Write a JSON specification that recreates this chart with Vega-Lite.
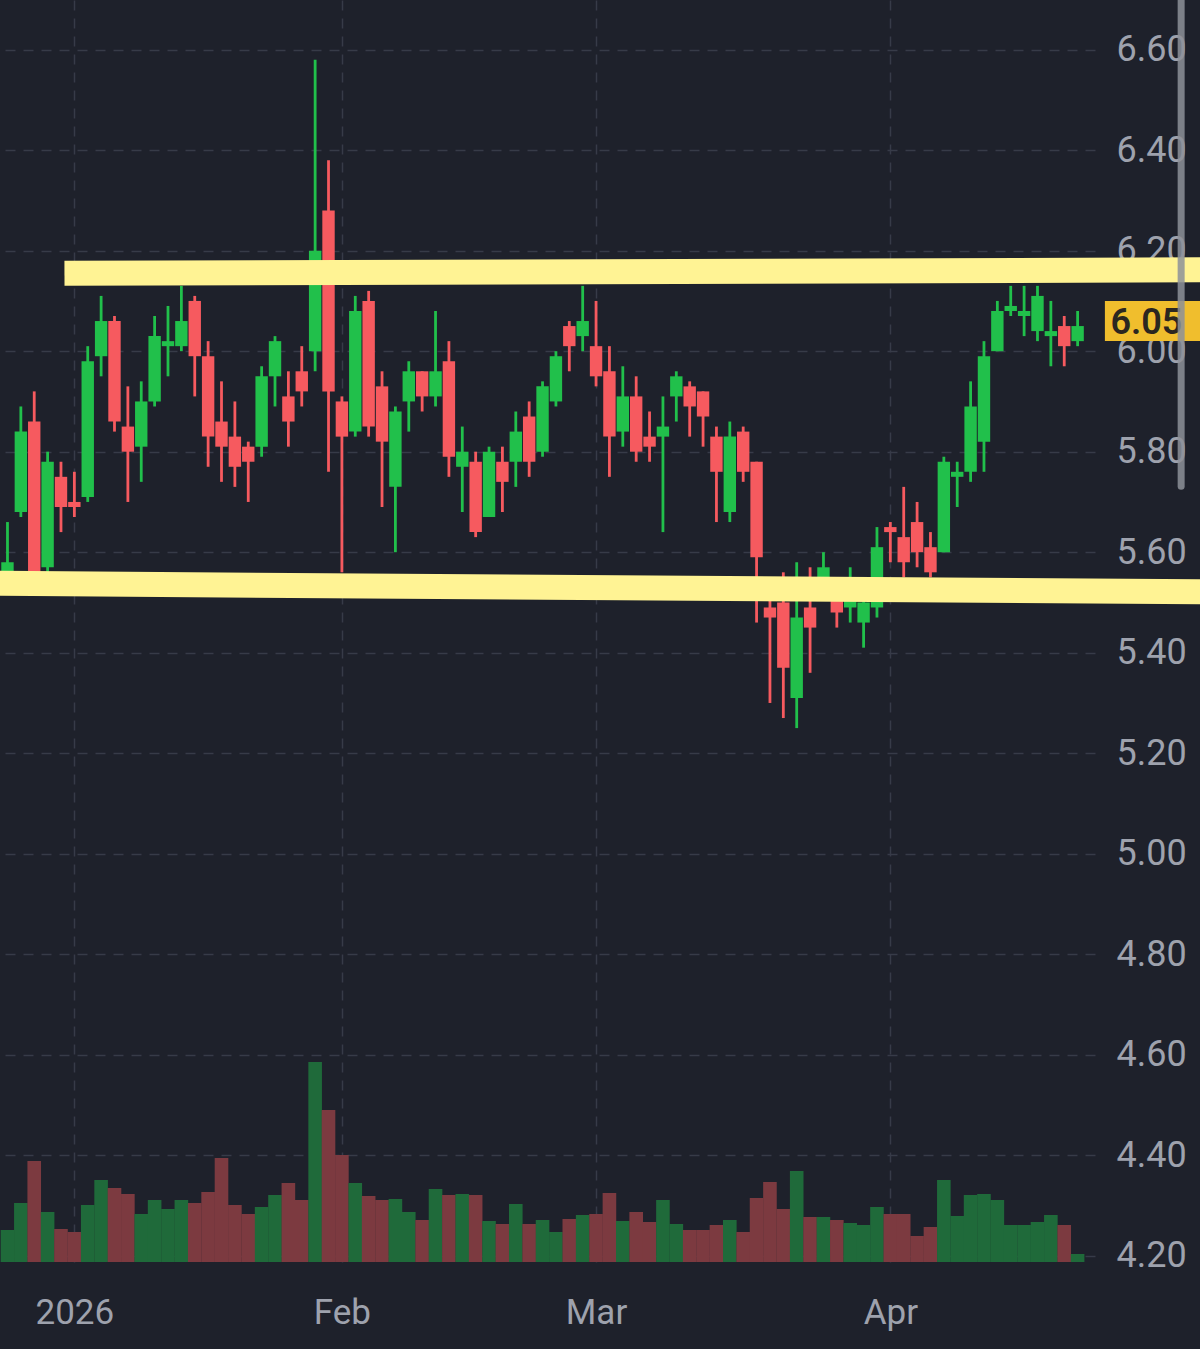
{
  "$schema": "https://vega.github.io/schema/vega-lite/v6.json",
  "width": 1095,
  "height": 1262,
  "autosize": {"type": "none"},
  "padding": {"left": 0, "top": 0, "right": 105, "bottom": 87},
  "background": "#1e212b",
  "config": {"view": {"stroke": null}, "font": "Roboto"},
  "datasets": {
    "ohlc": [
      {"t": 0, "date": "2025-12-24", "open": 5.56, "high": 5.66, "low": 5.54, "close": 5.58, "volume": 3.2},
      {"t": 1, "date": "2025-12-26", "open": 5.68, "high": 5.89, "low": 5.67, "close": 5.84, "volume": 5.9},
      {"t": 2, "date": "2025-12-29", "open": 5.86, "high": 5.92, "low": 5.55, "close": 5.56, "volume": 10.1},
      {"t": 3, "date": "2025-12-30", "open": 5.57, "high": 5.80, "low": 5.55, "close": 5.78, "volume": 5.0},
      {"t": 4, "date": "2025-12-31", "open": 5.75, "high": 5.78, "low": 5.64, "close": 5.69, "volume": 3.3},
      {"t": 5, "date": "2026-01-02", "open": 5.70, "high": 5.76, "low": 5.67, "close": 5.69, "volume": 3.0},
      {"t": 6, "date": "2026-01-05", "open": 5.71, "high": 6.01, "low": 5.70, "close": 5.98, "volume": 5.7},
      {"t": 7, "date": "2026-01-06", "open": 5.99, "high": 6.11, "low": 5.95, "close": 6.06, "volume": 8.2},
      {"t": 8, "date": "2026-01-07", "open": 6.06, "high": 6.07, "low": 5.84, "close": 5.86, "volume": 7.4},
      {"t": 9, "date": "2026-01-08", "open": 5.85, "high": 5.93, "low": 5.70, "close": 5.80, "volume": 6.8},
      {"t": 10, "date": "2026-01-09", "open": 5.81, "high": 5.94, "low": 5.74, "close": 5.90, "volume": 4.8},
      {"t": 11, "date": "2026-01-12", "open": 5.90, "high": 6.07, "low": 5.89, "close": 6.03, "volume": 6.2},
      {"t": 12, "date": "2026-01-13", "open": 6.01, "high": 6.09, "low": 5.95, "close": 6.02, "volume": 5.3},
      {"t": 13, "date": "2026-01-14", "open": 6.01, "high": 6.13, "low": 6.00, "close": 6.06, "volume": 6.2},
      {"t": 14, "date": "2026-01-15", "open": 6.10, "high": 6.11, "low": 5.91, "close": 5.99, "volume": 5.9},
      {"t": 15, "date": "2026-01-16", "open": 5.99, "high": 6.02, "low": 5.77, "close": 5.83, "volume": 7.0},
      {"t": 16, "date": "2026-01-20", "open": 5.86, "high": 5.94, "low": 5.74, "close": 5.81, "volume": 10.4},
      {"t": 17, "date": "2026-01-21", "open": 5.83, "high": 5.90, "low": 5.73, "close": 5.77, "volume": 5.7},
      {"t": 18, "date": "2026-01-22", "open": 5.81, "high": 5.82, "low": 5.70, "close": 5.78, "volume": 4.8},
      {"t": 19, "date": "2026-01-23", "open": 5.81, "high": 5.97, "low": 5.79, "close": 5.95, "volume": 5.5},
      {"t": 20, "date": "2026-01-26", "open": 5.95, "high": 6.03, "low": 5.89, "close": 6.02, "volume": 6.7},
      {"t": 21, "date": "2026-01-27", "open": 5.91, "high": 5.96, "low": 5.81, "close": 5.86, "volume": 7.9},
      {"t": 22, "date": "2026-01-28", "open": 5.96, "high": 6.01, "low": 5.89, "close": 5.92, "volume": 6.2},
      {"t": 23, "date": "2026-01-29", "open": 6.00, "high": 6.58, "low": 5.96, "close": 6.20, "volume": 20.0},
      {"t": 24, "date": "2026-01-30", "open": 6.28, "high": 6.38, "low": 5.76, "close": 5.92, "volume": 15.2},
      {"t": 25, "date": "2026-02-02", "open": 5.90, "high": 5.91, "low": 5.56, "close": 5.83, "volume": 10.7},
      {"t": 26, "date": "2026-02-03", "open": 5.84, "high": 6.11, "low": 5.83, "close": 6.08, "volume": 7.9},
      {"t": 27, "date": "2026-02-04", "open": 6.10, "high": 6.12, "low": 5.83, "close": 5.85, "volume": 6.6},
      {"t": 28, "date": "2026-02-05", "open": 5.93, "high": 5.96, "low": 5.69, "close": 5.82, "volume": 6.2},
      {"t": 29, "date": "2026-02-06", "open": 5.73, "high": 5.89, "low": 5.60, "close": 5.88, "volume": 6.3},
      {"t": 30, "date": "2026-02-09", "open": 5.90, "high": 5.98, "low": 5.84, "close": 5.96, "volume": 5.0},
      {"t": 31, "date": "2026-02-10", "open": 5.96, "high": 5.96, "low": 5.88, "close": 5.91, "volume": 4.2},
      {"t": 32, "date": "2026-02-11", "open": 5.91, "high": 6.08, "low": 5.89, "close": 5.96, "volume": 7.3},
      {"t": 33, "date": "2026-02-12", "open": 5.98, "high": 6.02, "low": 5.75, "close": 5.79, "volume": 6.7},
      {"t": 34, "date": "2026-02-13", "open": 5.77, "high": 5.85, "low": 5.68, "close": 5.80, "volume": 6.8},
      {"t": 35, "date": "2026-02-17", "open": 5.78, "high": 5.80, "low": 5.63, "close": 5.64, "volume": 6.7},
      {"t": 36, "date": "2026-02-18", "open": 5.67, "high": 5.81, "low": 5.67, "close": 5.80, "volume": 4.1},
      {"t": 37, "date": "2026-02-19", "open": 5.78, "high": 5.81, "low": 5.68, "close": 5.74, "volume": 3.8},
      {"t": 38, "date": "2026-02-20", "open": 5.78, "high": 5.88, "low": 5.73, "close": 5.84, "volume": 5.8},
      {"t": 39, "date": "2026-02-23", "open": 5.87, "high": 5.90, "low": 5.75, "close": 5.78, "volume": 3.8},
      {"t": 40, "date": "2026-02-24", "open": 5.80, "high": 5.94, "low": 5.79, "close": 5.93, "volume": 4.2},
      {"t": 41, "date": "2026-02-25", "open": 5.90, "high": 6.00, "low": 5.89, "close": 5.99, "volume": 3.0},
      {"t": 42, "date": "2026-02-26", "open": 6.05, "high": 6.06, "low": 5.96, "close": 6.01, "volume": 4.3},
      {"t": 43, "date": "2026-02-27", "open": 6.03, "high": 6.13, "low": 6.00, "close": 6.06, "volume": 4.7},
      {"t": 44, "date": "2026-03-02", "open": 6.01, "high": 6.10, "low": 5.93, "close": 5.95, "volume": 4.8},
      {"t": 45, "date": "2026-03-03", "open": 5.96, "high": 6.01, "low": 5.75, "close": 5.83, "volume": 6.9},
      {"t": 46, "date": "2026-03-04", "open": 5.84, "high": 5.97, "low": 5.81, "close": 5.91, "volume": 4.1},
      {"t": 47, "date": "2026-03-05", "open": 5.91, "high": 5.95, "low": 5.78, "close": 5.80, "volume": 5.0},
      {"t": 48, "date": "2026-03-06", "open": 5.83, "high": 5.88, "low": 5.78, "close": 5.81, "volume": 4.0},
      {"t": 49, "date": "2026-03-09", "open": 5.83, "high": 5.91, "low": 5.64, "close": 5.85, "volume": 6.2},
      {"t": 50, "date": "2026-03-10", "open": 5.91, "high": 5.96, "low": 5.86, "close": 5.95, "volume": 3.8},
      {"t": 51, "date": "2026-03-11", "open": 5.93, "high": 5.94, "low": 5.83, "close": 5.89, "volume": 3.2},
      {"t": 52, "date": "2026-03-12", "open": 5.92, "high": 5.92, "low": 5.81, "close": 5.87, "volume": 3.2},
      {"t": 53, "date": "2026-03-13", "open": 5.83, "high": 5.85, "low": 5.66, "close": 5.76, "volume": 3.7},
      {"t": 54, "date": "2026-03-16", "open": 5.68, "high": 5.86, "low": 5.66, "close": 5.83, "volume": 4.2},
      {"t": 55, "date": "2026-03-17", "open": 5.84, "high": 5.85, "low": 5.74, "close": 5.76, "volume": 3.0},
      {"t": 56, "date": "2026-03-18", "open": 5.78, "high": 5.78, "low": 5.46, "close": 5.59, "volume": 6.4},
      {"t": 57, "date": "2026-03-19", "open": 5.49, "high": 5.55, "low": 5.30, "close": 5.47, "volume": 8.0},
      {"t": 58, "date": "2026-03-20", "open": 5.50, "high": 5.56, "low": 5.27, "close": 5.37, "volume": 5.3},
      {"t": 59, "date": "2026-03-23", "open": 5.31, "high": 5.58, "low": 5.25, "close": 5.47, "volume": 9.1},
      {"t": 60, "date": "2026-03-24", "open": 5.49, "high": 5.57, "low": 5.36, "close": 5.45, "volume": 4.5},
      {"t": 61, "date": "2026-03-25", "open": 5.54, "high": 5.60, "low": 5.52, "close": 5.57, "volume": 4.5},
      {"t": 62, "date": "2026-03-26", "open": 5.51, "high": 5.53, "low": 5.45, "close": 5.48, "volume": 4.2},
      {"t": 63, "date": "2026-03-27", "open": 5.49, "high": 5.57, "low": 5.46, "close": 5.51, "volume": 3.9},
      {"t": 64, "date": "2026-03-30", "open": 5.46, "high": 5.52, "low": 5.41, "close": 5.50, "volume": 3.7},
      {"t": 65, "date": "2026-03-31", "open": 5.49, "high": 5.65, "low": 5.47, "close": 5.61, "volume": 5.5},
      {"t": 66, "date": "2026-04-01", "open": 5.65, "high": 5.66, "low": 5.58, "close": 5.64, "volume": 4.8},
      {"t": 67, "date": "2026-04-02", "open": 5.63, "high": 5.73, "low": 5.55, "close": 5.58, "volume": 4.8},
      {"t": 68, "date": "2026-04-06", "open": 5.66, "high": 5.70, "low": 5.57, "close": 5.60, "volume": 2.6},
      {"t": 69, "date": "2026-04-07", "open": 5.61, "high": 5.64, "low": 5.55, "close": 5.56, "volume": 3.5},
      {"t": 70, "date": "2026-04-08", "open": 5.60, "high": 5.79, "low": 5.60, "close": 5.78, "volume": 8.2},
      {"t": 71, "date": "2026-04-09", "open": 5.75, "high": 5.78, "low": 5.69, "close": 5.76, "volume": 4.6},
      {"t": 72, "date": "2026-04-10", "open": 5.76, "high": 5.94, "low": 5.74, "close": 5.89, "volume": 6.7},
      {"t": 73, "date": "2026-04-13", "open": 5.82, "high": 6.02, "low": 5.76, "close": 5.99, "volume": 6.8},
      {"t": 74, "date": "2026-04-14", "open": 6.00, "high": 6.10, "low": 6.00, "close": 6.08, "volume": 6.2},
      {"t": 75, "date": "2026-04-15", "open": 6.08, "high": 6.13, "low": 6.07, "close": 6.09, "volume": 3.7},
      {"t": 76, "date": "2026-04-16", "open": 6.07, "high": 6.13, "low": 6.03, "close": 6.08, "volume": 3.7},
      {"t": 77, "date": "2026-04-17", "open": 6.04, "high": 6.13, "low": 6.02, "close": 6.11, "volume": 4.0},
      {"t": 78, "date": "2026-04-20", "open": 6.03, "high": 6.10, "low": 5.97, "close": 6.04, "volume": 4.7},
      {"t": 79, "date": "2026-04-21", "open": 6.05, "high": 6.07, "low": 5.97, "close": 6.01, "volume": 3.7},
      {"t": 80, "date": "2026-04-22", "open": 6.02, "high": 6.08, "low": 6.01, "close": 6.05, "volume": 0.8}
    ],
    "levels": [
      {"level": "resistance", "t1": 4.26, "p1": 6.155, "t2": 90.5, "p2": 6.162},
      {"level": "support", "t1": -0.6, "p1": 5.538, "t2": 90.5, "p2": 5.521}
    ],
    "last": [{"close": 6.05}]
  },
  "layer": [
    {
      "data": {"name": "ohlc"},
      "mark": {"type": "bar", "orient": "vertical", "size": 13.6},
      "encoding": {
        "x": {
          "field": "t", "type": "quantitative",
          "scale": {"domain": [-0.1852, 80.926], "nice": false, "zero": false},
          "axis": {
            "values": [5, 25, 44, 66],
            "labelExpr": "datum.value == 5 ? '2026' : datum.value == 25 ? 'Feb' : datum.value == 44 ? 'Mar' : 'Apr'",
            "title": null, "domain": false, "ticks": false,
            "grid": true, "gridColor": "#373b48", "gridDash": [10, 8], "gridWidth": 1.5,
            "labelPadding": 33, "labelFontSize": 35, "labelColor": "#9ea2ad",
            "labelFlush": false, "labelOverlap": false, "labelFont": "Roboto"
          }
        },
        "y": {"field": "volume", "type": "quantitative", "scale": {"domain": [0, 126.2], "nice": false}, "axis": null},
        "color": {"condition": {"test": "datum.close >= datum.open", "value": "#1f6a3a"}, "value": "#7c3a40"}
      }
    },
    {
      "layer": [
        {
          "data": {"name": "ohlc"},
          "mark": {"type": "rule", "strokeWidth": 2.8},
          "encoding": {
            "x": {"field": "t", "type": "quantitative", "title": null},
            "y": {
              "field": "low", "type": "quantitative",
              "scale": {"domain": [4.1975, 6.6889], "nice": false, "zero": false},
              "axis": {
                "orient": "right",
                "values": [4.2, 4.4, 4.6, 4.8, 5.0, 5.2, 5.4, 5.6, 5.8, 6.0, 6.2, 6.4, 6.6],
                "format": ".2f", "title": null, "domain": false, "ticks": false,
                "grid": true, "gridColor": "#373b48", "gridDash": [10, 8], "gridWidth": 1.5,
                "labelPadding": 21, "labelFontSize": 36, "labelColor": "#9ea2ad",
                "labelOverlap": false, "labelFlush": false, "labelFont": "Roboto"
              }
            },
            "y2": {"field": "high"},
            "color": {"condition": {"test": "datum.close >= datum.open", "value": "#21c04b"}, "value": "#f65a5f"}
          }
        },
        {
          "data": {"name": "ohlc"},
          "mark": {"type": "bar", "orient": "vertical", "size": 12.4},
          "encoding": {
            "x": {"field": "t", "type": "quantitative", "title": null},
            "y": {"field": "open", "type": "quantitative", "title": null},
            "y2": {"field": "close"},
            "color": {"condition": {"test": "datum.close >= datum.open", "value": "#21c04b"}, "value": "#f65a5f"}
          }
        },
        {
          "data": {"name": "levels"},
          "mark": {"type": "rule", "strokeWidth": 25, "color": "#fff394", "strokeCap": "butt"},
          "encoding": {
            "x": {"field": "t1", "type": "quantitative", "title": null},
            "x2": {"field": "t2"},
            "y": {"field": "p1", "type": "quantitative", "title": null},
            "y2": {"field": "p2"}
          }
        },
        {
          "data": {"name": "last"},
          "mark": {"type": "bar", "orient": "horizontal", "size": 40, "color": "#f0be2d", "yOffset": -5},
          "encoding": {
            "x": {"datum": 82.04, "type": "quantitative"},
            "x2": {"datum": 90.5},
            "y": {"field": "close", "type": "quantitative", "title": null}
          }
        },
        {
          "data": {"name": "last"},
          "mark": {"type": "text", "align": "left", "baseline": "middle", "dy": -3, "fontSize": 36, "fontWeight": 600, "color": "#2b2720", "font": "Roboto"},
          "encoding": {
            "x": {"datum": 82.45, "type": "quantitative"},
            "y": {"field": "close", "type": "quantitative", "title": null},
            "text": {"field": "close", "type": "quantitative", "format": ".2f"}
          }
        },
        {
          "data": {"name": "last"},
          "mark": {"type": "rule", "strokeWidth": 7, "color": "#8d9099", "opacity": 0.85, "strokeCap": "round"},
          "encoding": {
            "x": {"datum": 87.74, "type": "quantitative"},
            "y": {"datum": 6.72, "type": "quantitative"},
            "y2": {"datum": 5.731}
          }
        }
      ]
    }
  ],
  "resolve": {"scale": {"y": "independent"}}
}
